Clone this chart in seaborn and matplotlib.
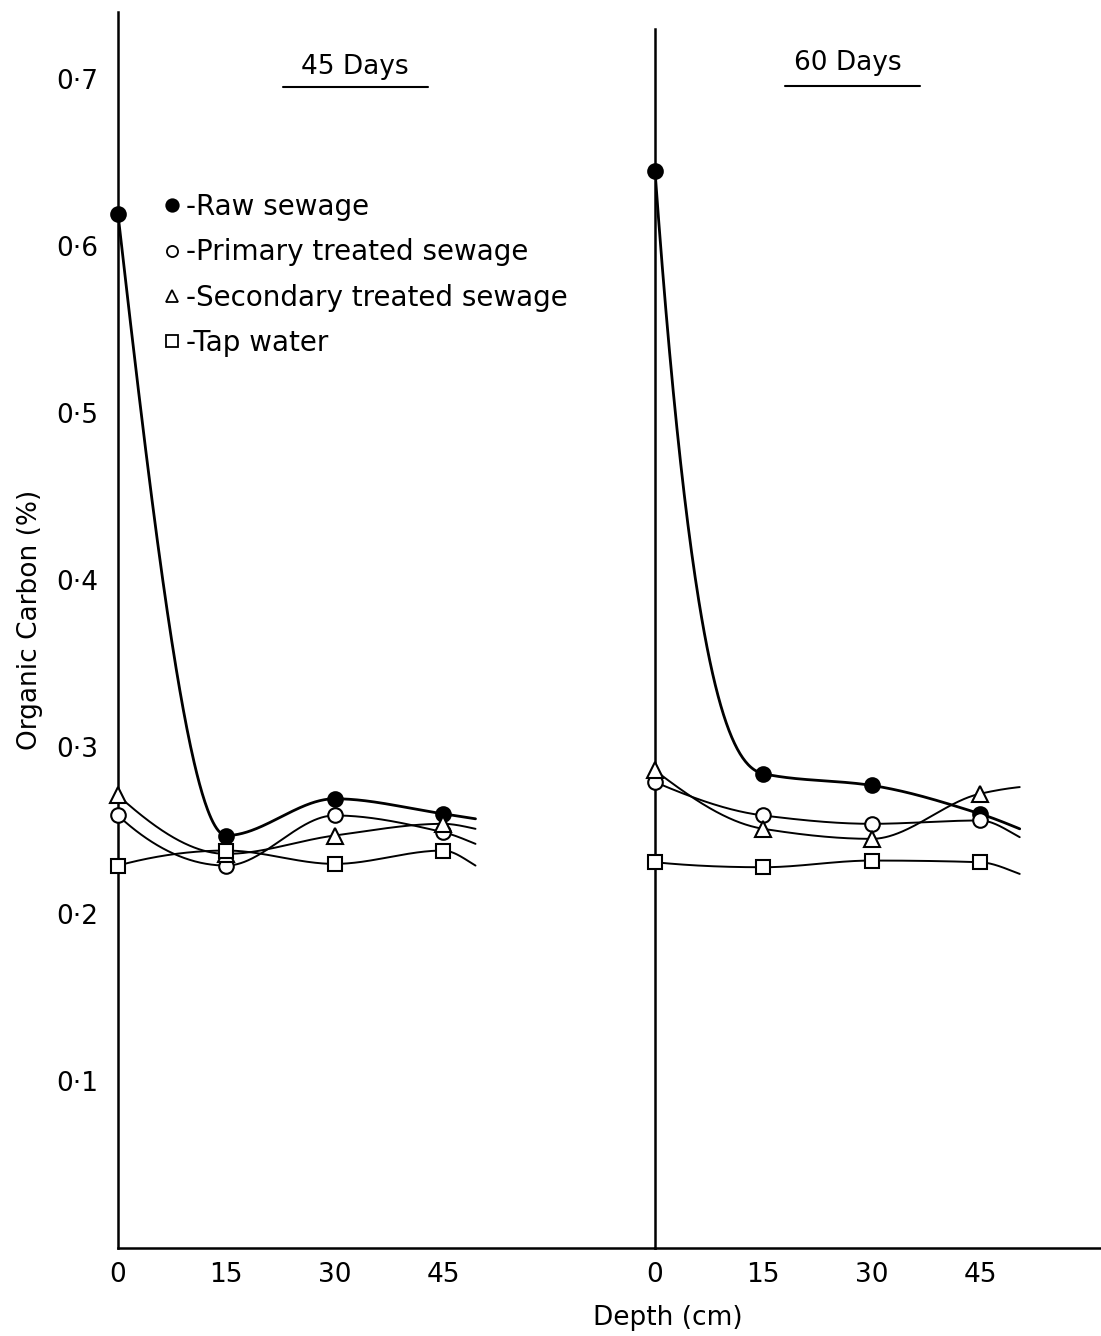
import numpy as np
import pandas as pd
import matplotlib
matplotlib.use("Agg")
import matplotlib.pyplot as plt
import seaborn as sns
from matplotlib.lines import Line2D

# ---------------- data ----------------
depth = [0, 15, 30, 45]
series = ["Raw sewage", "Primary treated sewage", "Secondary treated sewage", "Tap water"]

raw_45 = [0.619, 0.247, 0.269, 0.260]
primary_45 = [0.259, 0.229, 0.259, 0.249]
secondary_45 = [0.271, 0.236, 0.247, 0.254]
tap_45 = [0.229, 0.238, 0.230, 0.238]

raw_60 = [0.645, 0.284, 0.277, 0.260]
primary_60 = [0.279, 0.259, 0.254, 0.256]
secondary_60 = [0.286, 0.251, 0.245, 0.272]
tap_60 = [0.231, 0.228, 0.232, 0.231]

# where each hand-drawn curve ends (unmarked tail beyond 45 cm)
tail_depth_45 = 49.5
tail_45 = [0.257, 0.242, 0.251, 0.229]
tail_depth_60 = 50.5
tail_60 = [0.251, 0.246, 0.276, 0.224]

x_ticks = [0, 15, 30, 45]
y_ticks = [0.1, 0.2, 0.3, 0.4, 0.5, 0.6, 0.7]
y_tick_labels = ["0·1", "0·2", "0·3", "0·4", "0·5", "0·6", "0·7"]
panel_titles = ["45 Days", "60 Days"]


# ---------------- smooth curve (PCHIP) ----------------
def pchip(x, y, xs, start_factor=None):
    x = np.asarray(x, float); y = np.asarray(y, float)
    h = np.diff(x); d = np.diff(y) / h
    n = len(x); m = np.zeros(n)
    for k in range(1, n - 1):
        if d[k - 1] * d[k] > 0:
            w1 = 2 * h[k] + h[k - 1]; w2 = h[k] + 2 * h[k - 1]
            m[k] = (w1 + w2) / (w1 / d[k - 1] + w2 / d[k])
    def end(h0, h1, d0, d1):
        mm = ((2 * h0 + h1) * d0 - h0 * d1) / (h0 + h1)
        if np.sign(mm) != np.sign(d0):
            mm = 0.0
        elif np.sign(d0) != np.sign(d1) and abs(mm) > abs(3 * d0):
            mm = 3 * d0
        return mm
    m[0] = end(h[0], h[1], d[0], d[1])
    m[-1] = end(h[-1], h[-2], d[-1], d[-2])
    if start_factor is not None:
        m[0] = start_factor * d[0]
    idx = np.clip(np.searchsorted(x, xs, side="right") - 1, 0, n - 2)
    t = (xs - x[idx]) / h[idx]
    h00 = 2 * t**3 - 3 * t**2 + 1; h10 = t**3 - 2 * t**2 + t
    h01 = -2 * t**3 + 3 * t**2; h11 = t**3 - t**2
    return (h00 * y[idx] + h10 * h[idx] * m[idx] + h01 * y[idx + 1] + h11 * h[idx] * m[idx + 1])


rows = []
for panel, vals in zip(panel_titles, [[raw_45, primary_45, secondary_45, tap_45],
                                      [raw_60, primary_60, secondary_60, tap_60]]):
    for s, v in zip(series, vals):
        for dd, vv in zip(depth, v):
            rows.append(dict(panel=panel, series=s, depth=dd, carbon=vv))
df = pd.DataFrame(rows)

tails = {"45 Days": (tail_depth_45, dict(zip(series, tail_45))),
         "60 Days": (tail_depth_60, dict(zip(series, tail_60)))}

sns.set_theme(style="white")
plt.rcParams["font.family"] = ["DejaVu Sans"]
plt.rcParams["text.color"] = "black"
plt.rcParams["axes.labelcolor"] = "black"

W, H = 1101, 1336
fig = plt.figure(figsize=(W / 100, H / 100), dpi=100)
pxu = 325 / 45.0
y0 = 1248; pyu = 1670.0
ytop = 0.74
bottom = (H - y0) / H
height = (ytop * pyu) / H
axL = fig.add_axes([118 / W, bottom, (655 - 118) / W, height])
axR = fig.add_axes([655 / W, bottom, (W - 655) / W, height])
axL.set_xlim(0, (655 - 118) / pxu)
axR.set_xlim(0, (W - 655) / pxu)

markers = {"Raw sewage": "o", "Primary treated sewage": "o",
           "Secondary treated sewage": "^", "Tap water": "s"}
faces = {"Raw sewage": "black", "Primary treated sewage": "white",
         "Secondary treated sewage": "white", "Tap water": "white"}
msize = {"Raw sewage": 10.5, "Primary treated sewage": 10.5,
         "Secondary treated sewage": 11.5, "Tap water": 9.5}
lw = {"Raw sewage": 2.0, "Primary treated sewage": 1.4,
      "Secondary treated sewage": 1.4, "Tap water": 1.4}
start_factor = {("60 Days", "Raw sewage"): 2.5}

for ax, panel in [(axL, "45 Days"), (axR, "60 Days")]:
    sub = df[df.panel == panel]
    tdepth, tvals = tails[panel]
    for s in series:
        ss = sub[sub.series == s]
        xk = list(ss.depth.values) + [tdepth]
        yk = list(ss.carbon.values) + [tvals[s]]
        xs = np.linspace(0, tdepth, 400)
        ys = pchip(xk, yk, xs, start_factor.get((panel, s)))
        sm = pd.DataFrame(dict(depth=xs, carbon=ys))
        sns.lineplot(data=sm, x="depth", y="carbon", ax=ax, color="black",
                     lw=lw[s], sort=False, zorder=2)
    for s in series:
        ss = sub[sub.series == s]
        ax.plot(ss.depth, ss.carbon, linestyle="none", marker=markers[s],
                markersize=msize[s], markerfacecolor=faces[s],
                markeredgecolor="black", markeredgewidth=1.5, zorder=3,
                clip_on=False)
    ax.set_ylim(0, ytop)
    ax.set_xlabel(""); ax.set_ylabel("")
    for sp in ["top", "right"]:
        ax.spines[sp].set_visible(False)
    for sp in ["left", "bottom"]:
        ax.spines[sp].set_color("black"); ax.spines[sp].set_linewidth(1.8)
    ax.set_xticks(x_ticks)
    ax.set_xticklabels([str(t) for t in x_ticks], fontsize=19)
    ax.tick_params(axis="x", direction="in", length=15, width=1.5, pad=10, colors="black")
    ax.set_facecolor("white")

axL.set_yticks(y_ticks)
axL.set_yticklabels(y_tick_labels, fontsize=19)
axL.tick_params(axis="y", direction="in", length=14, width=1.5, pad=14, colors="black")
axR.set_yticks(y_ticks)
axR.set_yticklabels([])
axR.tick_params(axis="y", direction="in", length=18, width=1.5, colors="black")
axR.spines["left"].set_bounds(0, 0.73)

# panel titles with underline
for ax, title, xc, yc, ux, uy in [(axL, "45 Days", 32.8, 0.707, (22.8, 42.9), 0.695),
                                   (axR, "60 Days", 26.7, 0.7096, (18.0, 36.7), 0.696)]:
    ax.text(xc, yc, title, ha="center", va="center", fontsize=19, color="black")
    ax.add_line(Line2D(list(ux), [uy, uy], color="black", lw=1.5))

handles = [Line2D([], [], linestyle="none", marker=markers[s],
                  markersize=9 if s == "Raw sewage" else 8,
                  markerfacecolor=faces[s], markeredgecolor="black", markeredgewidth=1.3)
           for s in series]
leg = axL.legend(handles, ["-" + s for s in series], loc="upper left",
                 bbox_to_anchor=(150 / W, (H - 182) / H), bbox_transform=fig.transFigure,
                 frameon=False, fontsize=20, handlelength=0.8, handletextpad=0.1,
                 labelspacing=0.62, borderaxespad=0)
for t in leg.get_texts():
    t.set_color("black")

fig.text(30 / W, (H - 620) / H, "Organic Carbon (%)", rotation=90, ha="center",
         va="center", fontsize=19, color="black")
fig.text(668 / W, (H - 1318) / H, "Depth (cm)", ha="center", va="center",
         fontsize=19, color="black")

fig.savefig("out.png", dpi=100, facecolor="white")
